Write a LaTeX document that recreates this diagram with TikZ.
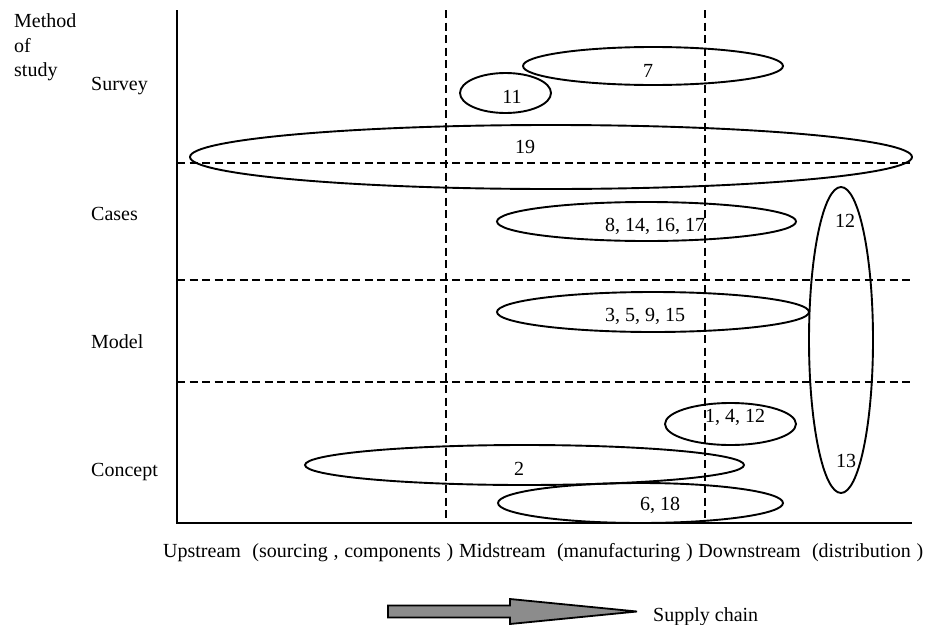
\documentclass[tikz,border=0pt]{standalone}
\usepackage{fontspec}
\setmainfont{Liberation Serif}
\usetikzlibrary{shapes.geometric}
\begin{document}
\begin{tikzpicture}[x=1pt,y=-1pt,
  every node/.style={font=\fontsize{20}{24}\selectfont, inner sep=0pt},
  axisline/.style={line width=2pt},
  gridline/.style={line width=1.5pt, dash pattern=on 8pt off 4.5pt},
  oval/.style={draw, ellipse, line width=1.9pt, inner sep=0pt},
  lab/.style={anchor=base},
  rowlab/.style={anchor=base west}]
\useasboundingbox (0,0) rectangle (937,624);
% axes
\coordinate (top) at (177,10);
\coordinate (origin) at (177,523);
\coordinate (xend) at (912,523);
\draw[axisline] (top) -- (origin) -- (xend);
% vertical dashed lines
\coordinate (v1t) at (446,10); \coordinate (v1b) at (446,523);
\coordinate (v2t) at (705,10); \coordinate (v2b) at (705,523);
\draw[gridline] (v1t) -- (v1b);
\draw[gridline] (v2t) -- (v2b);
% horizontal dashed lines
\coordinate (h1l) at (177,163); \coordinate (h1r) at (912,163);
\coordinate (h2l) at (177,280); \coordinate (h2r) at (912,280);
\coordinate (h3l) at (177,382); \coordinate (h3r) at (912,382);
\draw[gridline] (h1l) -- (h1r);
\draw[gridline] (h2l) -- (h2r);
\draw[gridline] (h3l) -- (h3r);
% ellipses
\node[oval, minimum width=260pt, minimum height=38pt] (e7) at (653,66) {};
\node[oval, minimum width=91pt, minimum height=40pt] (e11) at (505.5,93) {};
\node[oval, minimum width=722pt, minimum height=64pt] (e19) at (551,157) {};
\node[oval, minimum width=299pt, minimum height=39pt] (e8) at (646.5,221.5) {};
\node[oval, minimum width=312pt, minimum height=40pt] (e3) at (653,312) {};
\node[oval, minimum width=64pt, minimum height=306pt] (e12) at (841,340) {};
\node[oval, minimum width=131pt, minimum height=42pt] (e1) at (730.5,424) {};
\node[oval, minimum width=439pt, minimum height=40pt] (e2) at (524.5,465) {};
\node[oval, minimum width=285pt, minimum height=40pt] (e6) at (640.5,503) {};
% ellipse labels
\node[lab] (t7) at (648,77) {7};
\node[lab] (t11) at (512,103) {11};
\node[lab] (t19) at (525,153) {19};
\node[lab] (t8) at (655,231) {8, 14, 16, 17};
\node[lab] (t3) at (645,321) {3, 5, 9, 15};
\node[lab] (t12) at (845,227) {12};
\node[lab] (t13) at (846,467) {13};
\node[lab] (t1) at (735,422) {1, 4, 12};
\node[lab] (t2) at (519,475) {2};
\node[lab] (t6) at (660,510) {6, 18};
% row labels
\node[rowlab] (m1) at (14,27) {Method};
\node[rowlab] (m2) at (14,52) {of};
\node[rowlab] (m3) at (14,76) {study};
\node[rowlab] (survey) at (91,90) {Survey};
\node[rowlab] (cases) at (91,220) {Cases};
\node[rowlab] (model) at (91,348) {Model};
\node[rowlab] (concept) at (91,476) {Concept};
% bottom axis text
\node[rowlab] (xlab) at (163,557) {\spaceskip=5.7pt Upstream\ \ (sourcing , components ) Midstream\ \ (manufacturing ) Downstream\ \ (distribution )};
% supply chain arrow
\draw[line width=1.8pt, fill=black!45, line join=miter]
  (388,605.5) -- (510,605.5) -- (510,599) -- (637,611.5) -- (510,624) -- (510,617.5) -- (388,617.5) -- cycle;
\coordinate (tip) at (637,611.5);
\node[rowlab] (sc) at (653,621) {Supply chain};
\end{tikzpicture}
\end{document}
